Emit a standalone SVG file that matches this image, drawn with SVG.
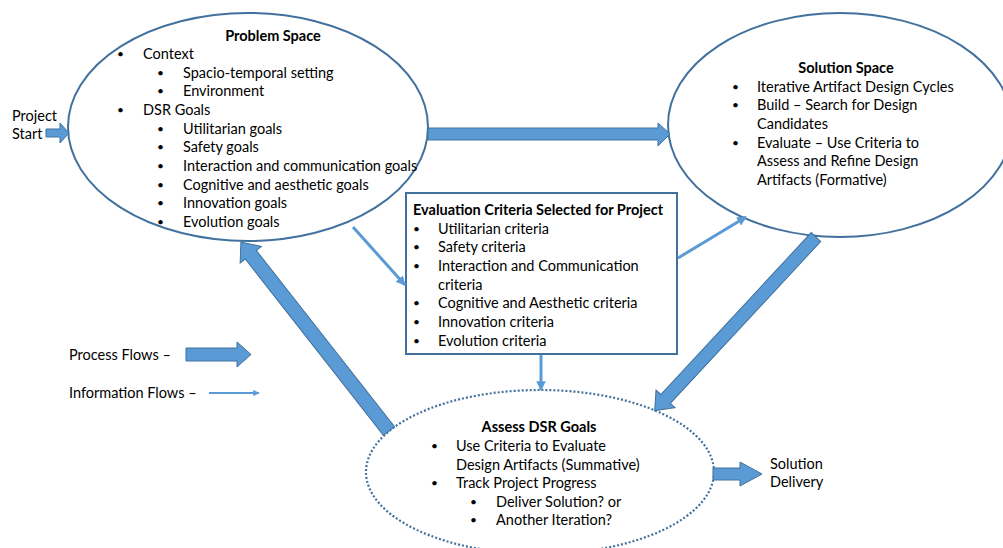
<svg xmlns="http://www.w3.org/2000/svg" width="1003" height="548" viewBox="0 0 1003 548">
<defs>
<style>
text{font-family:Lato,"Open Sans","Liberation Sans",sans-serif;font-size:14.5px;fill:#000}
.b{font-weight:bold}
.ell{fill:#fff;stroke:#41719c;stroke-width:2}
.dot{fill:#fff;stroke:#41719c;stroke-width:2.2;stroke-dasharray:2 2}
.box{fill:#fff;stroke:#41719c;stroke-width:2}
.pf{fill:#5b9bd5;stroke:#41719c;stroke-width:1}
.inf{stroke:#5b9bd5;stroke-width:3;fill:none}
.bu{font-size:12px}
</style>
<marker id="ah" viewBox="0 0 10 10" refX="9" refY="5" markerWidth="3.2" markerHeight="3.2" orient="auto" markerUnits="strokeWidth">
<path d="M0,0 L10,5 L0,10 z" fill="#5b9bd5"/>
</marker>
</defs>
<rect width="1003" height="548" fill="#fff"/>

<g id="problem-space">
<ellipse class="ell" cx="248" cy="127" rx="180" ry="114"/>
<text class="b" x="273" y="41" text-anchor="middle">Problem Space</text>
<text class="bu" x="117" y="58">•</text><text x="143" y="59">Context</text>
<text class="bu" x="157" y="77">•</text><text x="183" y="78">Spacio-temporal setting</text>
<text class="bu" x="157" y="95">•</text><text x="183" y="96">Environment</text>
<text class="bu" x="117" y="114">•</text><text x="143" y="115">DSR Goals</text>
<text class="bu" x="157" y="133">•</text><text x="183" y="134">Utilitarian goals</text>
<text class="bu" x="157" y="151">•</text><text x="183" y="152">Safety goals</text>
<text class="bu" x="157" y="170">•</text><text x="183" y="171">Interaction and communication goals</text>
<text class="bu" x="157" y="189">•</text><text x="183" y="190">Cognitive and aesthetic goals</text>
<text class="bu" x="157" y="207">•</text><text x="183" y="208">Innovation goals</text>
<text class="bu" x="157" y="226">•</text><text x="183" y="227">Evolution goals</text>
</g>

<g id="solution-space">
<ellipse class="ell" cx="840" cy="125" rx="172" ry="112"/>
<text class="b" x="846" y="73" text-anchor="middle">Solution Space</text>
<text class="bu" x="732" y="91">•</text><text x="757" y="92">Iterative Artifact Design Cycles</text>
<text class="bu" x="732" y="109">•</text><text x="757" y="110">Build – Search for Design</text>
<text x="757" y="129">Candidates</text>
<text class="bu" x="732" y="147">•</text><text x="757" y="148">Evaluate – Use Criteria to</text>
<text x="757" y="166">Assess and Refine Design</text>
<text x="757" y="185">Artifacts (Formative)</text>
</g>

<g id="evaluation-criteria">
<rect class="box" x="406" y="193" width="271" height="161"/>
<text class="b" x="413" y="215">Evaluation Criteria Selected for Project</text>
<text class="bu" x="413" y="233">•</text><text x="438" y="234">Utilitarian criteria</text>
<text class="bu" x="413" y="251">•</text><text x="438" y="252">Safety criteria</text>
<text class="bu" x="413" y="270">•</text><text x="438" y="271">Interaction and Communication</text>
<text x="438" y="290">criteria</text>
<text class="bu" x="413" y="307">•</text><text x="438" y="308">Cognitive and Aesthetic criteria</text>
<text class="bu" x="413" y="326">•</text><text x="438" y="327">Innovation criteria</text>
<text class="bu" x="413" y="345">•</text><text x="438" y="346">Evolution criteria</text>
</g>

<g id="assess-dsr-goals">
<ellipse class="dot" cx="540" cy="472" rx="174" ry="82"/>
<text class="b" x="539" y="432" text-anchor="middle">Assess DSR Goals</text>
<text class="bu" x="431" y="450">•</text><text x="456" y="451">Use Criteria to Evaluate</text>
<text x="456" y="470">Design Artifacts (Summative)</text>
<text class="bu" x="431" y="487">•</text><text x="456" y="488">Track Project Progress</text>
<text class="bu" x="470" y="506">•</text><text x="496" y="507">Deliver Solution? or</text>
<text class="bu" x="470" y="524">•</text><text x="496" y="525">Another Iteration?</text>
</g>

<g id="project-start">
<text x="12" y="121">Project</text>
<text x="12" y="139">Start</text>
</g>

<g id="solution-delivery">
<text x="770" y="469">Solution</text>
<text x="770" y="487">Delivery</text>
</g>

<g id="legend">
<text x="69" y="360">Process Flows –</text>
<text x="69" y="398">Information Flows –</text>
<polygon class="pf" points="186,348 237,348 237,342 251,354.5 237,367 237,361 186,361"/>
<line x1="209" y1="393" x2="259" y2="393" stroke="#5b9bd5" stroke-width="2" marker-end="url(#ah)"/>
</g>

<g id="connectors">
<polygon class="pf" points="46,129 60,129 60,123 69,133 60,143 60,137 46,137"/>
<polygon class="pf" points="428,128 658,128 658,123 670,134 658,146 658,140 428,140"/>
<polygon class="pf" transform="translate(816,237) rotate(132.9)" points="0,-6.5 221,-6.5 221,-13 237,0 221,13 221,6.5 0,6.5"/>
<polygon class="pf" transform="translate(389,431) rotate(-128.1)" points="0,-7 224,-7 224,-13.5 240,0 224,13.5 224,7 0,7"/>
<polygon class="pf" points="713,468 740,468 740,462 762,474 740,486 740,480 713,480"/>
<line class="inf" x1="353" y1="227" x2="405" y2="285" marker-end="url(#ah)"/>
<line class="inf" x1="678" y1="258" x2="746" y2="217" marker-end="url(#ah)"/>
<line class="inf" x1="541" y1="355" x2="541" y2="390" marker-end="url(#ah)"/>
</g>
</svg>
